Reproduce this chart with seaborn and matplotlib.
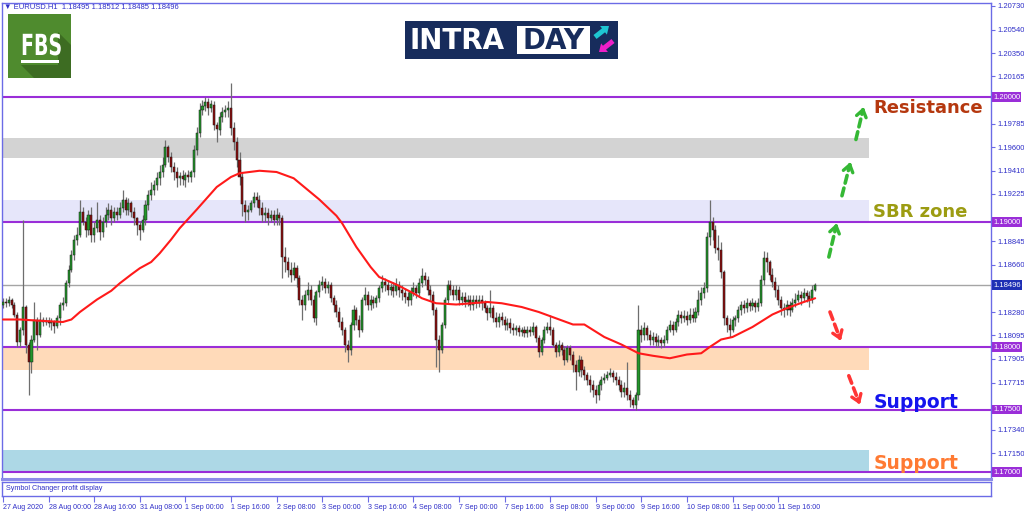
"""
EURUSD H1 intraday chart: candles, key levels, zones and moving average
"""
import numpy as np
import pandas as pd
import matplotlib
matplotlib.use("Agg")
import matplotlib.pyplot as plt
import matplotlib.patches as mpatches
import matplotlib.transforms as mtransforms
from matplotlib.textpath import TextPath
from matplotlib.font_manager import FontProperties
import seaborn as sns

# ────────────────────────────────────────────────────────────────
# DATA  (hourly bars, prices given in pips above 1.17000)
# ────────────────────────────────────────────────────────────────
BASE = 1.17000
PIP = 0.0001

first_open = 134
closes = [
    136, 135, 138, 134, 126, 104, 114, 132, 102, 88,
    106, 122, 110, 122, 120, 121, 119, 120, 117, 123,
    134, 135, 151, 162, 174, 186, 190, 208, 200, 194,
    206, 190, 195, 202, 192, 200, 206, 210, 203, 208,
    206, 211, 218, 210, 215, 208, 203, 198, 194, 202,
    214, 222, 226, 230, 235, 240, 246, 260, 252, 244,
    240, 235, 237, 234, 238, 236, 240, 258, 271, 290,
    293, 296, 291, 294, 278, 274, 284, 288, 290, 291,
    275, 264, 250, 236, 214, 208, 210, 215, 220, 218,
    211, 206, 207, 203, 206, 202, 206, 203, 172, 168,
    162, 158, 163, 155, 138, 134, 142, 146, 138, 123,
    144, 150, 152, 147, 150, 139, 134, 128, 120, 114,
    102, 98, 118, 130, 122, 114, 138, 142, 134, 138,
    135, 139, 147, 152, 150, 146, 148, 145, 150, 146,
    143, 140, 138, 144, 147, 143, 151, 157, 154, 146,
    142, 130, 106, 98, 118, 138, 150, 146, 142, 146,
    138, 140, 136, 138, 134, 138, 135, 138, 135, 131,
    127, 131, 123, 120, 124, 122, 118, 119, 115, 114,
    115, 112, 114, 111, 114, 112, 116, 107, 96, 106,
    114, 116, 114, 102, 96, 102, 98, 90, 99, 94,
    86, 80, 90, 82, 78, 74, 70, 66, 62, 70,
    74, 75, 78, 79, 76, 74, 70, 64, 67, 62,
    58, 54, 62, 114, 110, 115, 110, 106, 108, 104,
    106, 103, 106, 114, 118, 114, 120, 126, 123, 125,
    122, 126, 123, 128, 138, 143, 147, 188, 200, 194,
    179, 178, 160, 123, 118, 114, 122, 123, 130, 134,
    131, 135, 133, 135, 132, 135, 154, 171, 168, 158,
    152, 146, 138, 131, 130, 134, 130, 135, 138, 142,
    139, 143, 141, 138, 146, 150,
]
highs = [
    139, 139, 141, 139, 136, 128, 116, 202, 134, 104,
    110, 136, 124, 128, 124, 124, 124, 123, 122, 126,
    136, 140, 154, 166, 178, 190, 196, 218, 212, 204,
    210, 212, 200, 216, 206, 204, 212, 215, 214, 212,
    212, 216, 226, 220, 219, 217, 212, 204, 201, 206,
    218, 226, 232, 234, 240, 246, 252, 266, 262, 256,
    248, 244, 240, 242, 240, 242, 242, 262, 276, 295,
    298, 300, 299, 298, 297, 280, 288, 292, 294, 297,
    311, 280, 268, 256, 240, 218, 214, 218, 224, 224,
    222, 216, 212, 211, 210, 210, 211, 208, 206, 180,
    172, 168, 168, 166, 158, 142, 146, 152, 150, 142,
    146, 154, 157, 155, 153, 152, 142, 138, 132, 124,
    116, 106, 120, 134, 132, 126, 140, 148, 145, 142,
    141, 142, 150, 158, 155, 154, 151, 152, 155, 153,
    150, 147, 144, 148, 152, 150, 155, 163, 160, 157,
    150, 145, 132, 110, 120, 140, 154, 154, 150, 150,
    149, 144, 144, 142, 142, 142, 142, 142, 142, 138,
    134, 146, 134, 128, 127, 128, 125, 123, 123, 119,
    118, 118, 116, 117, 117, 117, 120, 118, 110, 108,
    117, 120, 126, 116, 104, 106, 104, 101, 102, 102,
    97, 90, 94, 93, 85, 80, 78, 74, 70, 73,
    77, 79, 81, 83, 82, 80, 77, 74, 72, 88,
    66, 60, 64, 134, 118, 120, 118, 114, 112, 111,
    110, 108, 110, 117, 122, 121, 123, 130, 129, 130,
    129, 131, 131, 132, 146, 148, 152, 192, 218, 204,
    198, 190, 184, 162, 126, 123, 125, 126, 133, 137,
    138, 139, 138, 139, 138, 139, 158, 177, 176, 170,
    163, 156, 150, 141, 135, 138, 137, 139, 143, 146,
    145, 147, 146, 145, 150, 151,
]
lows = [
    131, 132, 133, 131, 124, 100, 100, 110, 95, 62,
    79, 104, 98, 108, 117, 118, 116, 114, 111, 115,
    118, 130, 133, 148, 160, 170, 182, 188, 198, 188,
    190, 184, 184, 192, 186, 188, 196, 202, 198, 200,
    202, 203, 208, 206, 206, 204, 198, 190, 186, 192,
    198, 210, 218, 222, 226, 230, 236, 244, 248, 240,
    234, 228, 230, 230, 228, 232, 232, 236, 254, 268,
    286, 289, 286, 288, 274, 264, 270, 280, 284, 284,
    270, 258, 244, 230, 205, 200, 202, 208, 212, 212,
    206, 200, 200, 198, 200, 198, 198, 198, 155, 160,
    156, 152, 154, 148, 134, 122, 130, 138, 134, 120,
    118, 140, 146, 143, 143, 136, 128, 124, 116, 110,
    96, 88, 94, 114, 118, 108, 112, 134, 130, 130,
    131, 132, 136, 144, 145, 142, 142, 140, 142, 140,
    138, 135, 133, 134, 141, 139, 140, 148, 150, 142,
    138, 126, 84, 80, 95, 115, 135, 142, 138, 138,
    134, 134, 132, 133, 130, 130, 131, 132, 130, 128,
    122, 124, 120, 116, 116, 118, 114, 114, 111, 110,
    110, 109, 109, 108, 108, 109, 110, 104, 92, 94,
    103, 111, 110, 100, 92, 93, 94, 86, 88, 90,
    80, 66, 77, 76, 74, 70, 64, 60, 55, 58,
    66, 71, 74, 76, 72, 70, 66, 60, 60, 58,
    52, 51, 50, 58, 104, 106, 106, 102, 102, 100,
    100, 99, 100, 103, 112, 110, 112, 117, 119, 120,
    118, 119, 120, 120, 126, 134, 139, 144, 182, 186,
    175, 170, 155, 118, 112, 108, 112, 117, 120, 126,
    127, 128, 129, 130, 128, 129, 133, 150, 160, 154,
    148, 140, 134, 126, 124, 126, 125, 128, 132, 136,
    134, 137, 136, 132, 135, 145,
]

ma_bars = [0, 6, 13, 21, 24, 27, 33, 38, 41, 45,
           48, 52, 55, 59, 62, 68, 75, 80, 83, 90,
           96, 102, 111, 117, 119, 124, 129, 132, 138, 144,
           147, 152, 159, 170, 175, 182, 188, 194, 200, 204,
           211, 217, 223, 228, 234, 240, 245, 248, 252, 256,
           263, 270, 275, 281, 285]
ma_pips = [122, 122, 121, 120, 122, 128, 138, 145, 151, 158,
           163, 168, 175, 186, 195, 210, 228, 236, 239, 241,
           240, 235, 218, 205, 199, 180, 164, 156, 150, 143,
           139, 135, 134, 136, 135, 132, 128, 123, 118, 118,
           108, 102, 95, 93, 91, 94, 95, 100, 106, 108,
           116, 126, 131, 136, 139]

date_labels = [
    "27 Aug 2020", "28 Aug 00:00", "28 Aug 16:00", "31 Aug 08:00",
    "1 Sep 00:00", "1 Sep 16:00", "2 Sep 08:00", "3 Sep 00:00",
    "3 Sep 16:00", "4 Sep 08:00", "7 Sep 00:00", "7 Sep 16:00",
    "8 Sep 08:00", "9 Sep 00:00", "9 Sep 16:00", "10 Sep 08:00",
    "11 Sep 00:00", "11 Sep 16:00",
]
bars_per_label = 16

level_prices = [1.20000, 1.19000, 1.18000, 1.17500, 1.17000]
last_price = 1.18496
axis_ticks = [1.20730, 1.20540, 1.20350, 1.20165, 1.19979, 1.19785, 1.19600,
              1.19410, 1.19225, 1.19035, 1.18845, 1.18660, 1.18470, 1.18280,
              1.18095, 1.17905, 1.17715, 1.17530, 1.17340, 1.17150, 1.16965]

zone_low = [1.19512, 1.19008, 1.17816, 1.17000]
zone_high = [1.19672, 1.19176, 1.17992, 1.17176]
zone_end_bar = 304

tag_text = ["Resistance", "SBR zone", "Support", "Support"]
tag_price = [1.1991, 1.1908, 1.1756, 1.1707]
tag_bar = 305.4

# projected moves (bar, pips): tail -> head
up_tails = [(289.8, 172), (294.4, 221), (299.3, 266)]
up_heads = [(292.6, 199), (297.4, 248), (302.0, 292)]
down_tails = [(290.2, 128), (296.8, 77)]
down_heads = [(294.0, 105), (300.7, 54)]

header = "\u25bc EURUSD.H1  1.18495 1.18512 1.18485 1.18496"

# ────────────────────────────────────────────────────────────────
# STYLE
# ────────────────────────────────────────────────────────────────
sns.set_style("white")
plt.rcParams["font.family"] = ["Liberation Sans", "DejaVu Sans"]

AXIS_BLUE = "#6b6be6"
TEXT_BLUE = "#2f2fc8"
LEVEL_PURPLE = "#9a2ed8"
zone_colors = ["#d3d3d3", "#e6e6fa", "#ffdab9", "#add8e6"]
tag_colors = ["#b5380f", "#9c9c12", "#1414ee", "#ff7a33"]
tag_sizes = [13, 13, 13.5, 13.5]

W, H = 1024, 511
fig = plt.figure(figsize=(W / 100, H / 100), dpi=100)
fig.patch.set_facecolor("white")

ax = fig.add_axes([2 / W, 1 - 479 / H, 989 / W, 476 / H])
sub = fig.add_axes([2 / W, 1 - 496 / H, 989 / W, 14 / H])

ax.set_xlim(-0.35, 346.7)
ax.set_ylim(1.16944, 1.20752)

# ── candles ────────────────────────────────────────────────────
c_arr = np.array(closes, dtype=float)
df = pd.DataFrame({
    "open": np.r_[first_open, c_arr[:-1]] * PIP + BASE,
    "close": c_arr * PIP + BASE,
    "high": np.array(highs) * PIP + BASE,
    "low": np.array(lows) * PIP + BASE,
})
bull = (df["close"] >= df["open"]).to_numpy()

ax.vlines(df.index, df["low"], df["high"], color="#6e6e6e", lw=0.9, zorder=3)
ax.bar(df.index, df["close"] - df["open"], bottom=df["open"], width=0.72,
       color=np.where(bull, "#23962a", "#8e0d0d"), edgecolor="#1a1a1a",
       linewidth=0.35, zorder=4)

# ── moving average ────────────────────────────────────────────
sns.lineplot(x=ma_bars, y=np.array(ma_pips) * PIP + BASE, ax=ax,
             color="#ff1a1a", lw=1.5, zorder=5, sort=False)

# ── zones & levels ────────────────────────────────────────────
x0 = ax.get_xlim()[0]
for lo, hi, colr in zip(zone_low, zone_high, zone_colors):
    ax.fill_between([x0, zone_end_bar], lo, hi, color=colr, lw=0, zorder=1)

for p in level_prices:
    ax.axhline(p, color=LEVEL_PURPLE, lw=1.5, zorder=2)
ax.axhline(last_price, color="#a5a5a5", lw=1, zorder=2)

for txt, p, colr, fs in zip(tag_text, tag_price, tag_colors, tag_sizes):
    ax.text(tag_bar, p, txt, color=colr, fontsize=fs, fontweight="bold",
            va="center", ha="left", family="DejaVu Sans", zorder=6)


# ── projected move arrows ─────────────────────────────────────
def dashed_arrow(tail, head, colr):
    t = (tail[0], tail[1] * PIP + BASE)
    h = (head[0], head[1] * PIP + BASE)
    ax.annotate("", xy=h, xytext=t,
                arrowprops=dict(arrowstyle="-", color=colr, lw=2.6,
                                linestyle=(0, (2.2, 1.4)), shrinkA=0, shrinkB=2))
    near = (h[0] - 0.2 * (h[0] - t[0]), h[1] - 0.2 * (h[1] - t[1]))
    ax.annotate("", xy=h, xytext=near,
                arrowprops=dict(arrowstyle="->,head_length=0.5,head_width=0.35",
                                color=colr, lw=2.4, shrinkA=0, shrinkB=0))


for t, h in zip(up_tails, up_heads):
    dashed_arrow(t, h, "#35b835")
for t, h in zip(down_tails, down_heads):
    dashed_arrow(t, h, "#ff3535")

# ── right price axis ───────────────────────────────────────────
# labels that sit under a price tag are hidden by the tag itself
tagged = level_prices + [last_price]
tick_text = ["" if min(abs(t - p) for p in tagged) < 0.0004 else f"{t:.5f}"
             for t in axis_ticks]
ax.yaxis.tick_right()
ax.set_yticks(axis_ticks)
ax.set_yticklabels(tick_text)
ax.tick_params(axis="y", right=True, direction="out", length=3, width=0.8,
               color=AXIS_BLUE, labelsize=5.5, labelcolor=TEXT_BLUE, pad=2)
ax.set_xticks([])
ax.set_xlabel("")
ax.set_ylabel("")

trans = mtransforms.blended_transform_factory(ax.transAxes, ax.transData)
for p in level_prices:
    ax.text(1.0 + 2 / 989, p, f"{p:.5f}", transform=trans, ha="left",
            va="center", fontsize=5.5, color="white", zorder=10, clip_on=False,
            bbox=dict(boxstyle="square,pad=0.18", fc=LEVEL_PURPLE, ec="none"))
ax.text(1.0 + 2 / 989, last_price, f"{last_price:.5f}", transform=trans,
        ha="left", va="center", fontsize=5.5, color="white", zorder=10,
        clip_on=False,
        bbox=dict(boxstyle="square,pad=0.18", fc="#1f2fb5", ec="none"))

for s in ax.spines.values():
    s.set_color(AXIS_BLUE)
    s.set_linewidth(1)
ax.spines["bottom"].set_color("#8c8ce8")
ax.spines["bottom"].set_linewidth(2.2)

# ── sub panel with time axis ───────────────────────────────────
sub.set_xlim(ax.get_xlim())
sub.set_ylim(0, 1)
sub.set_yticks([])
sub.set_xticks(range(0, bars_per_label * len(date_labels), bars_per_label))
sub.set_xticklabels(date_labels, ha="left")
sub.tick_params(axis="x", bottom=True, direction="out", length=4, width=0.8,
                color=AXIS_BLUE, labelsize=5.1, labelcolor=TEXT_BLUE, pad=1.5)
sub.text(0.004, 0.5, "Symbol Changer profit display", transform=sub.transAxes,
         fontsize=5.2, color=TEXT_BLUE, va="center")
for s in sub.spines.values():
    s.set_color(AXIS_BLUE)
    s.set_linewidth(1)

# ── logos & header (pixel overlay) ─────────────────────────────
deco = fig.add_axes([0, 0, 1, 1], zorder=20)
deco.set_xlim(0, W)
deco.set_ylim(H, 0)
deco.axis("off")

deco.text(4, 7, header, fontsize=5.5, color=TEXT_BLUE, va="center",
          family=["Liberation Sans", "DejaVu Sans"])

# FBS badge
deco.add_patch(mpatches.Rectangle((8, 14), 63, 64, fc="#4f8b2e", ec="none"))
deco.add_patch(mpatches.Polygon([(58, 32), (71, 45), (71, 78), (34, 78),
                                 (21, 65), (58, 65)], fc="#3d6c22", ec="none"))
fbs = TextPath((0, 0), "FBS", size=30,
               prop=FontProperties(family="DejaVu Sans", weight="bold"))
fbs_box = fbs.get_extents()
sx = 38 / fbs_box.width
fbs_tr = mtransforms.Affine2D().scale(sx, -22 / fbs_box.height).translate(21, 55)
deco.add_patch(mpatches.PathPatch(fbs_tr.transform_path(fbs), fc="white", ec="none"))
deco.add_patch(mpatches.Rectangle((21, 60), 38, 3.5, fc="white", ec="none"))

# INTRADAY banner
deco.add_patch(mpatches.Rectangle((405, 21), 213, 38, fc="#172c5c", ec="none"))
deco.text(410, 49, "INTRA", color="white", fontsize=20, fontweight="bold",
          ha="left", va="baseline", family="DejaVu Sans")
deco.add_patch(mpatches.Rectangle((517, 26), 73, 28, fc="white", ec="none"))
deco.text(553.5, 49, "DAY", color="#172c5c", fontsize=20, fontweight="bold",
          ha="center", va="baseline", family="DejaVu Sans")
deco.add_patch(mpatches.FancyArrow(595, 37, 14, -11, width=5, head_width=11,
                                   head_length=7, length_includes_head=True,
                                   fc="#1ec6d2", ec="none"))
deco.add_patch(mpatches.FancyArrow(613, 41, -14, 11, width=5, head_width=11,
                                   head_length=7, length_includes_head=True,
                                   fc="#ee1fc8", ec="none"))

fig.savefig("out.png", dpi=100, facecolor="white")
